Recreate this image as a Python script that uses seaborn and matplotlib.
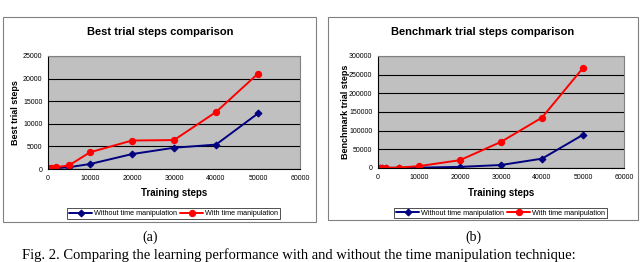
import matplotlib
matplotlib.use("Agg")
import matplotlib.pyplot as plt
import seaborn as sns
import numpy as np
import pandas as pd
from matplotlib.patches import Rectangle

# ---- data ----
steps = [0, 500, 1000, 2000, 5000, 10000, 20000, 30000, 40000, 50000]
best_without = [0, 50, 100, 200, 400, 1100, 3300, 4700, 5400, 12300]
best_with = [100, 200, 300, 400, 800, 3700, 6300, 6400, 12600, 21100]
bench_without = [0, 100, 200, 300, 500, 1000, 3000, 8000, 25000, 89000]
bench_with = [0, 200, 400, 600, 1000, 5000, 21000, 70000, 135000, 268000]
series_names = ["Without time manipulation", "With time manipulation"]
titles = ["Best trial steps comparison", "Benchmark trial steps comparison"]
ylabels = ["Best trial steps", "Benchmark trial steps"]
xlabel = "Training steps"
x_ticks = [0, 10000, 20000, 30000, 40000, 50000, 60000]
y_ticks_a = [0, 5000, 10000, 15000, 20000, 25000]
y_ticks_b = [0, 50000, 100000, 150000, 200000, 250000, 300000]
sub_captions = ["(a)", "(b)"]
fig_caption = "Fig. 2. Comparing the learning performance with and without the time manipulation technique:"

sns.set_style("white")
plt.rcParams["font.family"] = ["Liberation Sans", "DejaVu Sans"]
plt.rcParams["text.color"] = "black"
plt.rcParams["axes.labelcolor"] = "black"
plt.rcParams["xtick.color"] = "black"
plt.rcParams["ytick.color"] = "black"

W, H = 640, 262
fig = plt.figure(figsize=(6.4, 2.62), dpi=100)

def fx(px):
    return px / W

def fy(py):
    return 1 - py / H

colors = ["#000080", "#FF0000"]
markers = ["D", "o"]

panels = [
    dict(frame=(3, 17, 316, 222), ax=(48, 56, 300, 169), ylim=25000, yt=y_ticks_a,
         yvals=(best_without, best_with), title_x=160, ylabel_x=15, leg=(77, 207, 270, 220), cap_x=150),
    dict(frame=(328, 17, 638, 220), ax=(378, 56, 624, 168), ylim=300000, yt=y_ticks_b,
         yvals=(bench_without, bench_with), title_x=483, ylabel_x=345, leg=(404, 207, 597, 219), cap_x=473),
]

for i, p in enumerate(panels):
    x0, y0, x1, y1 = p["frame"]
    fig.patches.append(Rectangle((fx(x0), fy(y1)), fx(x1 - x0), (y1 - y0) / H,
                                 transform=fig.transFigure, fill=False,
                                 edgecolor="#808080", linewidth=0.8))
    a0, b0, a1, b1 = p["ax"]
    ax = fig.add_axes([fx(a0), fy(b1), fx(a1 - a0), (b1 - b0) / H])
    ax.set_facecolor("#C0C0C0")
    df = pd.DataFrame({"x": steps * 2,
                       "y": list(p["yvals"][0]) + list(p["yvals"][1]),
                       "s": [series_names[0]] * len(steps) + [series_names[1]] * len(steps)})
    for k, name in enumerate(series_names):
        sub = df[df["s"] == name]
        sns.lineplot(data=sub, x="x", y="y", ax=ax, color=colors[k], marker=markers[k],
                     markersize=4.5 if k == 1 else 3.5, markeredgecolor=colors[k],
                     linewidth=1.4, label=name, legend=False)
    ax.set_xlim(0, 60000)
    ax.set_ylim(0, p["ylim"])
    ax.set_xticks(x_ticks)
    ax.set_yticks(p["yt"])
    ax.set_xticklabels([str(t) for t in x_ticks], fontsize=5)
    ax.set_yticklabels([str(t) for t in p["yt"]], fontsize=5)
    ax.yaxis.grid(True, color="#000000", linewidth=0.8)
    ax.set_axisbelow(True)
    for s in ["top", "right"]:
        ax.spines[s].set_color("#808080")
        ax.spines[s].set_linewidth(0.8)
    for s in ["left", "bottom"]:
        ax.spines[s].set_color("#000000")
        ax.spines[s].set_linewidth(0.8)
    ax.tick_params(axis="both", direction="out", length=2, width=0.6, pad=2, colors="#000000")
    ax.set_xlabel(xlabel, fontsize=7, fontweight="bold", labelpad=5)
    ax.set_ylabel("")
    fig.text(fx(p["ylabel_x"]), fy((b0 + b1) / 2), ylabels[i], rotation=90,
             fontsize=6.5, fontweight="bold", ha="center", va="center")
    fig.text(fx(p["title_x"]), fy(32), titles[i], fontsize=8, fontweight="bold",
             ha="center", va="center")
    l0, m0, l1, m1 = p["leg"]
    handles, labels = ax.get_legend_handles_labels()
    leg = fig.legend(handles, labels, loc="center", ncol=2,
                     bbox_to_anchor=(fx((l0 + l1) / 2), fy((m0 + m1) / 2)),
                     fontsize=5.2, frameon=True, fancybox=False, handlelength=3.2,
                     handletextpad=0.2, columnspacing=0.5, borderpad=0.25,
                     edgecolor="#000000")
    leg.get_frame().set_linewidth(0.6)
    fig.text(fx(p["cap_x"]), fy(237), sub_captions[i], fontsize=10,
             family=["Liberation Serif", "DejaVu Serif"], ha="center", va="center")

fig.text(fx(22), fy(261.5), fig_caption, fontsize=10.5,
         family=["Liberation Serif", "DejaVu Serif"], ha="left", va="bottom")

fig.savefig("out.png", dpi=100)
